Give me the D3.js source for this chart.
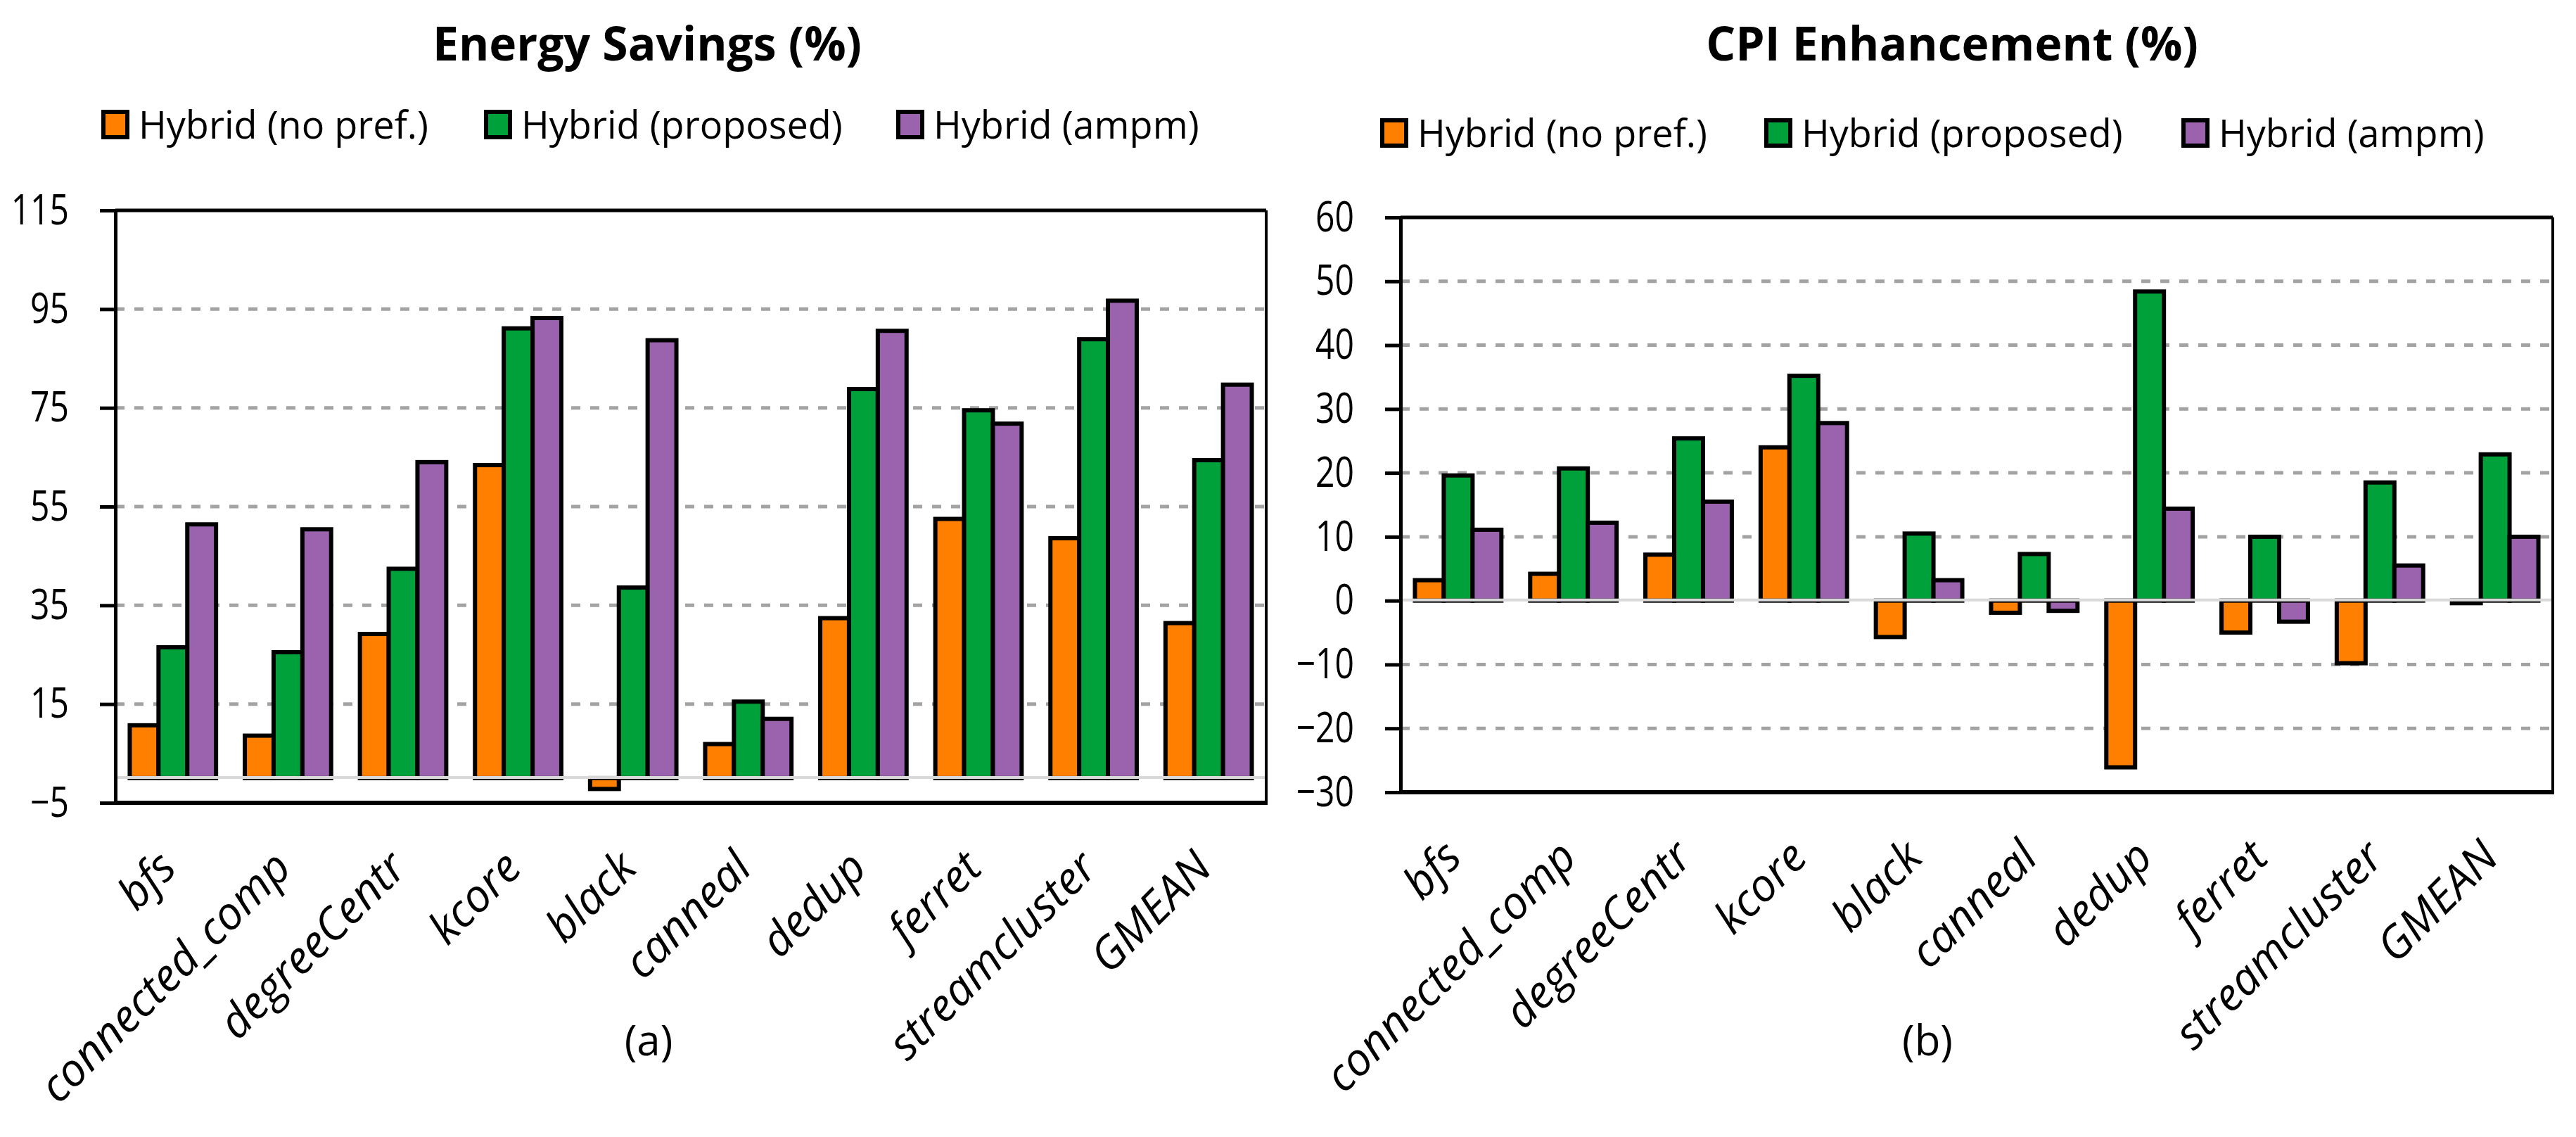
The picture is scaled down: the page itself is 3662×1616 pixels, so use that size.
<!DOCTYPE html>
<html>
<head>
<meta charset="utf-8">
<script src="https://cdn.jsdelivr.net/npm/d3@7/dist/d3.min.js"></script>
<style>
  body { margin: 0; background: #fff; }
  svg { display: block; font-family: "Open Sans", "Noto Sans", sans-serif; }
</style>
</head>
<body>
<svg id="canvas" width="3662" height="1616"></svg>
<script>
// benchmarks on the x axis
const categories = ['bfs', 'connected_comp', 'degreeCentr', 'kcore', 'black',
                    'canneal', 'dedup', 'ferret', 'streamcluster', 'GMEAN'];
const seriesNames = ['Hybrid (no pref.)', 'Hybrid (proposed)', 'Hybrid (ampm)'];

// (a) energy savings, %
const energyNoPref   = [10.7, 8.6, 29.2, 63.4, -2.2, 6.9, 32.4, 52.5, 48.6, 31.4];
const energyProposed = [26.5, 25.5, 42.4, 91.1, 38.6, 15.5, 78.8, 74.5, 88.9, 64.4];
const energyAmpm     = [51.4, 50.4, 64.0, 93.2, 88.7, 12.0, 90.6, 71.8, 96.7, 79.7];
const energyTicks = [-5, 15, 35, 55, 75, 95, 115];

// (b) CPI enhancement, %
const cpiNoPref   = [3.2, 4.2, 7.2, 24.0, -5.7, -1.9, -26.1, -5.0, -9.8, -0.4];
const cpiProposed = [19.6, 20.7, 25.4, 35.2, 10.5, 7.3, 48.4, 10.0, 18.5, 22.9];
const cpiAmpm     = [11.1, 12.2, 15.5, 27.8, 3.2, -1.6, 14.4, -3.3, 5.5, 10.0];
const cpiTicks = [-30, -20, -10, 0, 10, 20, 30, 40, 50, 60];

// colours of the three series
const colors = ['#FF7F00', '#00A03A', '#9B62AE'];

const svg = d3.select('#canvas');

function drawPanel(p) {
    const g = svg.append('g');

    const x = d3.scaleBand().domain(categories).range([p.left, p.right]);
    const xs = d3.scaleBand().domain(d3.range(3)).range([0, x.bandwidth()]).paddingOuter(0.5);
    const y = d3.scaleLinear().domain([p.ticks[0], p.ticks[p.ticks.length - 1]])
        .range([p.bottom, p.top]);

    // dashed gridlines (not at the borders, not at zero)
    g.append('g').selectAll('line')
        .data(p.ticks.filter((t, i) => i > 0 && i < p.ticks.length - 1 && t !== 0))
        .join('line')
        .attr('x1', p.left).attr('x2', p.right)
        .attr('y1', d => y(d)).attr('y2', d => y(d))
        .attr('stroke', '#a3a3a3').attr('stroke-width', 5)
        .attr('stroke-dasharray', '13,14');

    // bars
    const rows = [];
    p.series.forEach((vals, si) => vals.forEach((v, ci) => rows.push({ si, c: categories[ci], v })));
    g.append('g').selectAll('rect')
        .data(rows)
        .join('rect')
        .attr('x', d => x(d.c) + xs(d.si))
        .attr('width', xs.bandwidth())
        .attr('y', d => Math.min(y(d.v), y(0)))
        .attr('height', d => Math.abs(y(d.v) - y(0)))
        .attr('fill', d => colors[d.si])
        .attr('stroke', '#000').attr('stroke-width', 6);

    // zero line
    g.append('line')
        .attr('x1', p.left).attr('x2', p.right)
        .attr('y1', y(0) - 1).attr('y2', y(0) - 1)
        .attr('stroke', '#d9d9d9').attr('stroke-width', 4);

    // borders
    g.append('line').attr('x1', p.left).attr('x2', p.right)
        .attr('y1', p.top).attr('y2', p.top).attr('stroke', '#000').attr('stroke-width', 5);
    g.append('line').attr('x1', p.left - 2).attr('x2', p.right + 2)
        .attr('y1', p.bottom).attr('y2', p.bottom).attr('stroke', '#000').attr('stroke-width', 6);
    g.append('line').attr('x1', p.right).attr('x2', p.right)
        .attr('y1', p.top).attr('y2', p.bottom).attr('stroke', '#000').attr('stroke-width', 4);

    // y axis, labels a bit condensed like the original
    const yAxis = g.append('g')
        .attr('transform', `translate(${p.left},0)`)
        .call(d3.axisLeft(y).tickValues(p.ticks).tickSize(22).tickSizeOuter(0).tickPadding(44));
    yAxis.select('.domain').attr('stroke', '#000').attr('stroke-width', 5);
    yAxis.selectAll('.tick line').attr('stroke', '#000').attr('stroke-width', 5);
    yAxis.selectAll('.tick text')
        .attr('font-size', 60).attr('fill', '#000')
        .attr('font-family', '"Open Sans", sans-serif')
        .attr('x', -66 / 0.8)
        .attr('transform', 'scale(0.8,1)');

    // x axis labels
    const xAxis = g.append('g')
        .attr('transform', `translate(0,${p.bottom})`)
        .call(d3.axisBottom(x).tickSize(0));
    xAxis.select('.domain').remove();
    xAxis.selectAll('.tick text')
        .attr('font-size', 64).attr('font-style', 'italic').attr('fill', '#000')
        .attr('font-family', '"Open Sans", sans-serif')
        .attr('text-anchor', 'end')
        .attr('dy', 0)
        .attr('y', 0)
        .attr('transform', 'translate(8,96) rotate(-45)');

    // title
    g.append('text')
        .attr('x', p.titleX).attr('y', p.titleY)
        .attr('text-anchor', 'middle')
        .attr('font-size', 66).attr('font-weight', 'bold')
        .text(p.title);

    // legend
    const lg = g.append('g').selectAll('g')
        .data(seriesNames)
        .join('g')
        .attr('transform', (d, i) => `translate(${p.legendX[i]},${p.legendY})`);
    lg.append('rect')
        .attr('x', 0).attr('y', -19).attr('width', 34).attr('height', 36)
        .attr('fill', (d, i) => colors[i])
        .attr('stroke', '#000').attr('stroke-width', 6);
    lg.append('text')
        .attr('x', 50).attr('y', 19)
        .attr('font-size', 54)
        .text(d => d);

    // sub label
    g.append('text')
        .attr('x', p.subX).attr('y', 1500)
        .attr('text-anchor', 'middle')
        .attr('font-size', 60)
        .text(p.sub);
}

drawPanel({
    left: 164, right: 1800, top: 299, bottom: 1141,
    ticks: energyTicks,
    series: [energyNoPref, energyProposed, energyAmpm],
    title: 'Energy Savings (%)', titleX: 920, titleY: 86,
    legendX: [147, 691, 1277], legendY: 178,
    sub: '(a)', subX: 922
});

drawPanel({
    left: 1991, right: 3629, top: 309, bottom: 1126,
    ticks: cpiTicks,
    series: [cpiNoPref, cpiProposed, cpiAmpm],
    title: 'CPI Enhancement (%)', titleX: 2775, titleY: 86,
    legendX: [1965, 2511, 3104], legendY: 190,
    sub: '(b)', subX: 2740
});
</script>
</body>
</html>
